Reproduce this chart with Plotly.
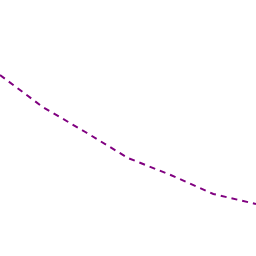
import plotly.graph_objects as go

x_vals = [0, 1, 2, 3, 4, 5, 6]
y_vals = [181, 149, 124, 98, 81, 62, 52]

fig = go.Figure()
fig.add_trace(go.Scatter(x=x_vals, y=y_vals, mode="lines",
                         line=dict(color="#800080", width=2, dash="6px,5px")))
fig.update_layout(width=256, height=256, margin=dict(l=0, r=0, t=0, b=0),
                  paper_bgcolor="white", plot_bgcolor="white", showlegend=False)
fig.update_xaxes(range=[0, 6], visible=False)
fig.update_yaxes(range=[0, 256], visible=False)
fig.write_html("out.html")
